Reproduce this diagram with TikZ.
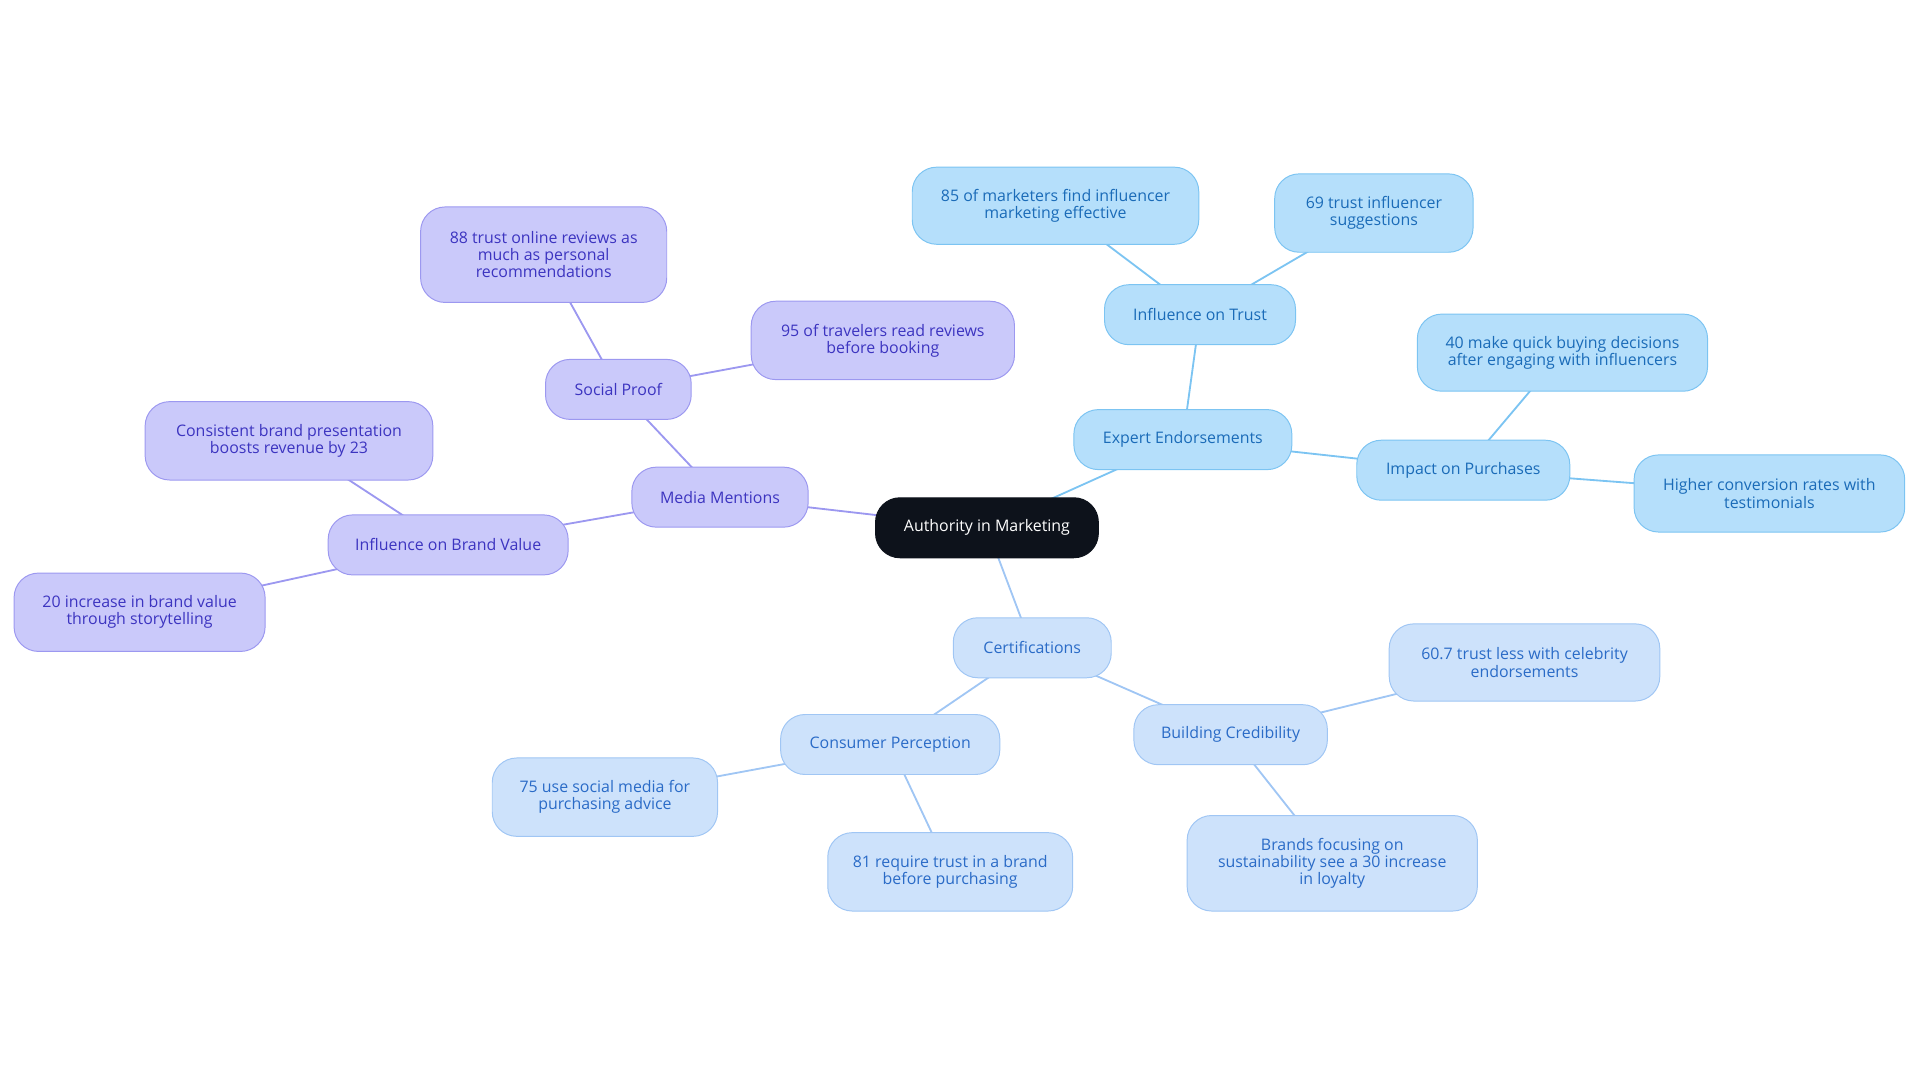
\documentclass[tikz,border=0pt]{standalone}
\usepackage{fontspec}
\setmainfont{Open Sans}
\usetikzlibrary{backgrounds}
\definecolor{bF}{HTML}{B5DFFB}\definecolor{bD}{HTML}{7CC4F2}\definecolor{bT}{HTML}{1A6BB8}
\definecolor{pF}{HTML}{CAC9FA}\definecolor{pD}{HTML}{9C98F0}\definecolor{pT}{HTML}{3C34C0}
\definecolor{cF}{HTML}{CDE2FB}\definecolor{cD}{HTML}{A0C6F4}\definecolor{cT}{HTML}{2A6BC7}
\definecolor{dk}{HTML}{0D121B}
\tikzset{
 base/.style={rounded corners=20pt,draw,line width=0.8pt,align=center,inner sep=0pt,font=\fontsize{13}{14}\selectfont,minimum height=49pt},
 bn/.style={base,fill=bF,draw=bD,text=bT},
 pn/.style={base,fill=pF,draw=pD,text=pT},
 cn/.style={base,fill=cF,draw=cD,text=cT},
 bedge/.style={draw=bD,line width=1.5pt},
 pedge/.style={draw=pD,line width=1.5pt},
 cedge/.style={draw=cD,line width=1.5pt},
}
\begin{document}
\begin{tikzpicture}[x=1pt,y=-1pt]
\useasboundingbox (0,0) rectangle (1568,884);
\node[base,fill=dk,draw=dk,text=white,minimum width=182pt] (root) at (806,431) {Authority in Marketing};
\node[bn,minimum width=178pt] (ee) at (966,359) {Expert Endorsements};
\node[bn,minimum width=156pt] (it) at (980,257) {Influence on Trust};
\node[bn,minimum width=234pt,minimum height=63pt] (m85) at (862,168) {85 of marketers find influencer\\marketing effective};
\node[bn,minimum width=162pt,minimum height=64pt] (t69) at (1122,174) {69 trust influencer\\suggestions};
\node[bn,minimum width=174pt] (ip) at (1195,384) {Impact on Purchases};
\node[bn,minimum width=237pt,minimum height=63pt] (q40) at (1276,288) {40 make quick buying decisions\\after engaging with influencers};
\node[bn,minimum width=221pt,minimum height=63pt] (hc) at (1445,403) {Higher conversion rates with\\testimonials};
\node[cn,minimum width=129pt] (cert) at (843,529) {Certifications};
\node[cn,minimum width=158pt] (bc) at (1005,600) {Building Credibility};
\node[cn,minimum width=221pt,minimum height=63pt] (c60) at (1245,541) {60.7 trust less with celebrity\\endorsements};
\node[cn,minimum width=237pt,minimum height=78pt] (bs) at (1088,705) {Brands focusing on\\sustainability see a 30 increase\\in loyalty};
\node[cn,minimum width=179pt] (cp) at (727,608) {Consumer Perception};
\node[cn,minimum width=184pt,minimum height=64pt] (s75) at (494,651) {75 use social media for\\purchasing advice};
\node[cn,minimum width=200pt,minimum height=64pt] (r81) at (776,712) {81 require trust in a brand\\before purchasing};
\node[pn,minimum width=144pt] (mm) at (588,406) {Media Mentions};
\node[pn,minimum width=119pt] (sp) at (505,318) {Social Proof};
\node[pn,minimum width=201pt,minimum height=78pt] (o88) at (444,208) {88 trust online reviews as\\much as personal\\recommendations};
\node[pn,minimum width=215pt,minimum height=64pt] (v95) at (721,278) {95 of travelers read reviews\\before booking};
\node[pn,minimum width=196pt] (bv) at (366,445) {Influence on Brand Value};
\node[pn,minimum width=235pt,minimum height=64pt] (cb) at (236,360) {Consistent brand presentation\\boosts revenue by 23};
\node[pn,minimum width=205pt,minimum height=64pt] (i20) at (114,500) {20 increase in brand value\\through storytelling};
\begin{scope}[on background layer]
\draw[bedge] (root.center)--(ee.center) (ee.center)--(it.center) (it.center)--(m85.center) (it.center)--(t69.center)
 (ee.center)--(ip.center) (ip.center)--(q40.center) (ip.center)--(hc.center);
\draw[cedge] (root.center)--(cert.center) (cert.center)--(bc.center) (bc.center)--(c60.center) (bc.center)--(bs.center)
 (cert.center)--(cp.center) (cp.center)--(s75.center) (cp.center)--(r81.center);
\draw[pedge] (root.center)--(mm.center) (mm.center)--(sp.center) (sp.center)--(o88.center) (sp.center)--(v95.center)
 (mm.center)--(bv.center) (bv.center)--(cb.center) (bv.center)--(i20.center);
\end{scope}
\end{tikzpicture}
\end{document}
